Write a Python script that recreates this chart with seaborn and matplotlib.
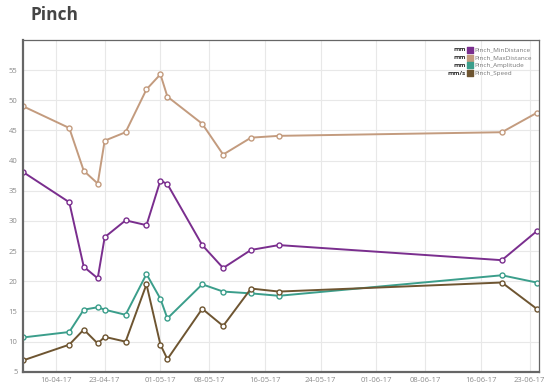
import numpy as np
import pandas as pd
import matplotlib
matplotlib.use('Agg')
import matplotlib.pyplot as plt
import matplotlib.dates as mdates
import seaborn as sns

# measurement dates
dates = pd.to_datetime(['2017-04-11 07:00', '2017-04-17 22:00', '2017-04-20 00:00', '2017-04-22 00:00',
                        '2017-04-23 00:00', '2017-04-26 00:00', '2017-04-29 00:00', '2017-05-01 00:00',
                        '2017-05-02 00:00', '2017-05-07 00:00', '2017-05-10 00:00', '2017-05-14 00:00',
                        '2017-05-18 00:00', '2017-06-19 00:00', '2017-06-24 00:00'])

min_distance = [38.1, 33.1, 22.4, 20.5, 27.3, 30.1, 29.3, 36.7, 36.1, 26.0, 22.2, 25.2, 26.0, 23.5, 28.3]
max_distance = [49.0, 45.4, 38.3, 36.2, 43.3, 44.7, 51.8, 54.3, 50.6, 46.1, 41.0, 43.8, 44.1, 44.7, 47.9]
amplitude = [10.7, 11.6, 15.3, 15.7, 15.3, 14.45, 21.2, 17.1, 13.85, 19.5, 18.3, 18.0, 17.6, 21.0, 19.8]
speed = [6.9, 9.5, 12.0, 9.7, 10.8, 10.0, 19.5, 9.5, 7.1, 15.45, 12.6, 18.8, 18.3, 19.8, 15.45]

series_names = ['Pinch_MinDistance', 'Pinch_MaxDistance', 'Pinch_Amplitude', 'Pinch_Speed']
units = ['mm', 'mm', 'mm', 'mm/s']
colors = ['#7a2e8e', '#c39b7e', '#3b9e8b', '#6e5531']

tick_dates = pd.to_datetime(['2017-04-16', '2017-04-23', '2017-05-01', '2017-05-08', '2017-05-16',
                             '2017-05-24', '2017-06-01', '2017-06-08', '2017-06-16', '2017-06-23'])

df = pd.DataFrame({'date': dates, 'Pinch_MinDistance': min_distance,
                   'Pinch_MaxDistance': max_distance, 'Pinch_Amplitude': amplitude,
                   'Pinch_Speed': speed})
long_df = df.melt(id_vars='date', var_name='series', value_name='value')

sns.set_style('white')
plt.rcParams['font.family'] = ['Open Sans', 'DejaVu Sans']

fig = plt.figure(figsize=(5.5, 3.91), dpi=100)
ax = fig.add_axes([0.042, 0.049, 0.938, 0.849])

for name, col in zip(series_names, colors):
    sub = long_df[long_df['series'] == name]
    sns.lineplot(data=sub, x='date', y='value', ax=ax, color=col, linewidth=1.4,
                 marker='o', markersize=3.6, markerfacecolor='white',
                 markeredgecolor=col, markeredgewidth=1.0, legend=False)

ax.set_ylim(5, 60)
ax.set_xlim(dates[0], dates[-1] + pd.Timedelta(hours=8))
ax.set_yticks(np.arange(5, 60, 5))
ax.set_xticks(tick_dates)
ax.xaxis.set_major_formatter(mdates.DateFormatter('%d-%m-%y'))
ax.tick_params(axis='both', labelsize=5.5, labelcolor='#8a8a8a', length=0, pad=4)
ax.set_xlabel('')
ax.set_ylabel('')
ax.grid(True, color='#e8e8e8', linewidth=0.8)
for side in ['left', 'bottom']:
    ax.spines[side].set_color('#666666')
    ax.spines[side].set_linewidth(1.6)
for side in ['top', 'right']:
    ax.spines[side].set_color('#666666')
    ax.spines[side].set_linewidth(0.9)

# legend with units to the left of the swatches
for i, (name, unit, col) in enumerate(zip(series_names, units, colors)):
    y = 0.97 - i * 0.0235
    ax.text(0.858, y, unit, transform=ax.transAxes, fontsize=4.6, color='#333333',
            fontweight='bold', ha='right', va='center')
    ax.scatter([0.8665], [y], transform=ax.transAxes, marker='s', s=13, color=col, zorder=5)
    ax.text(0.875, y, name, transform=ax.transAxes, fontsize=4.6, color='#777777',
            ha='left', va='center')

fig.text(0.056, 0.962, 'Pinch', fontsize=12.5, fontweight='bold', color='#454545',
         ha='left', va='center')

fig.savefig('out.png', dpi=100)
